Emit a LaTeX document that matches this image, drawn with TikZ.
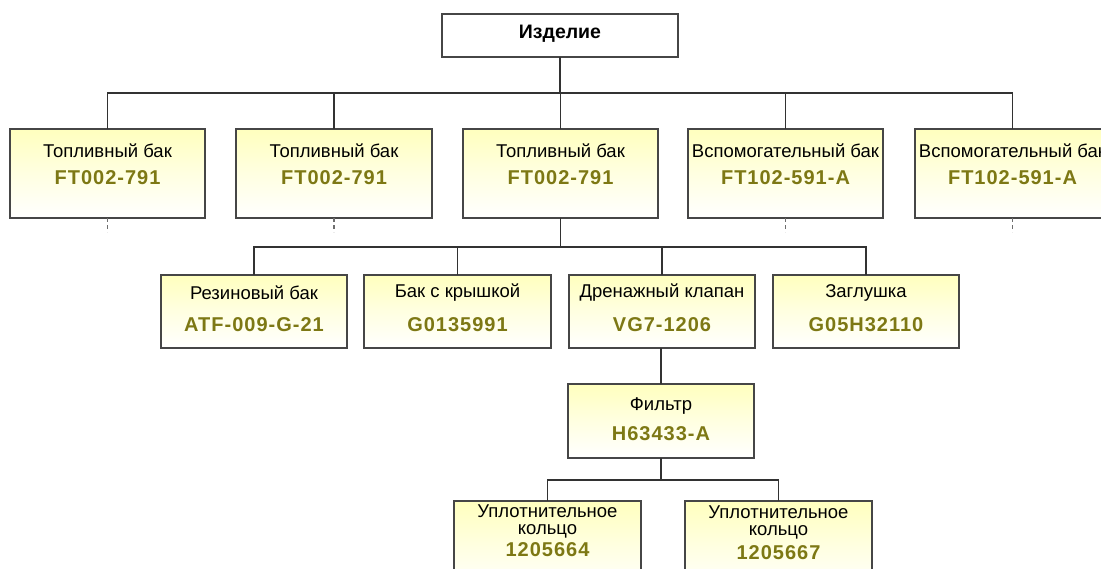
\documentclass[tikz,border=0pt]{standalone}
\usepackage{fontspec}
\setmainfont{Liberation Sans}
\newfontfamily\codefont[LetterSpace=5]{Liberation Sans}
\definecolor{linec}{RGB}{50,50,50}
\definecolor{boxc}{RGB}{70,70,70}
\definecolor{yel}{RGB}{255,255,190}
\definecolor{yelmid}{RGB}{255,255,225}
\definecolor{codec}{RGB}{125,120,20}
\definecolor{stubc}{RGB}{110,110,110}
\begin{document}
\begin{tikzpicture}[x=1pt,y=-1pt,
  box/.style={draw=boxc, line width=1.3pt, anchor=north west, inner sep=0pt, outer sep=0pt,
    top color=yel, bottom color=white, middle color=yelmid},
  rootbox/.style={draw=boxc, line width=1.3pt, anchor=north west, inner sep=0pt, outer sep=0pt, fill=white},
  nm/.style={font=\fontsize{18.5}{17}\selectfont, text=black, inner sep=0pt, align=center},
  cd/.style={font=\codefont\fontsize{20}{20}\selectfont\bfseries, text=codec, inner sep=0pt},
  rt/.style={font=\fontsize{19.5}{20}\selectfont\bfseries, text=black, inner sep=0pt},
  ln/.style={draw=linec, line width=1.4pt},
  stubline/.style={draw=stubc, line width=1.3pt, dash pattern=on 4pt off 3pt}]
\useasboundingbox (0,0) rectangle (1101,568);
\clip (0,0) rectangle (1101,568);
\fill[white] (0,0) rectangle (1101,568);

% root
\node[rootbox, minimum width=236pt, minimum height=43pt] (root) at (442,14) {};
\node[rt] (rootT) at (560,34) {Изделие};

% level 1
\node[box, minimum width=195pt, minimum height=89pt] (b1) at (10,129) {};
\node[box, minimum width=196pt, minimum height=89pt] (b2) at (236,129) {};
\node[box, minimum width=195pt, minimum height=89pt] (b3) at (463,129) {};
\node[box, minimum width=195pt, minimum height=89pt] (b4) at (688,129) {};
\node[box, minimum width=195pt, minimum height=89pt] (b5) at (915,129) {};

\node[nm] (b1n) at (107.5,151) {Топливный бак};
\node[cd] (b1c) at (107.5,178) {FT002-791};
\node[nm] (b2n) at (334,151) {Топливный бак};
\node[cd] (b2c) at (334,178) {FT002-791};
\node[nm] (b3n) at (560.5,151) {Топливный бак};
\node[cd] (b3c) at (560.5,178) {FT002-791};
\node[nm] (b4n) at (785.5,151) {Вспомогательный бак};
\node[cd] (b4c) at (785.5,178) {FT102-591-A};
\node[nm] (b5n) at (1012.5,151) {Вспомогательный бак};
\node[cd] (b5c) at (1012.5,178) {FT102-591-A};

% level 2
\node[box, minimum width=186pt, minimum height=73pt] (ca) at (161,275) {};
\node[box, minimum width=187pt, minimum height=73pt] (cb) at (364,275) {};
\node[box, minimum width=186pt, minimum height=73pt] (cc) at (569,275) {};
\node[box, minimum width=186pt, minimum height=73pt] (cdd) at (773,275) {};

\node[nm] (can) at (254,293) {Резиновый бак};
\node[cd] (cac) at (254,325) {ATF-009-G-21};
\node[nm] (cbn) at (457.5,293) {Бак с крышкой};
\node[cd] (cbc) at (457.5,325) {G0135991};
\node[nm] (ccn) at (662,293) {Дренажный клапан};
\node[cd] (ccc) at (662,325) {VG7-1206};
\node[nm] (cdn) at (866,293) {Заглушка};
\node[cd] (cdc) at (866,325) {G05H32110};

% level 3
\node[box, minimum width=186pt, minimum height=74pt] (fl) at (568,384) {};
\node[nm] (fln) at (661,406) {Фильтр};
\node[cd] (flc) at (661,434) {H63433-A};

% level 4
\node[box, minimum width=187pt, minimum height=90pt] (ea) at (454,501) {};
\node[box, minimum width=187pt, minimum height=90pt] (eb) at (685,501) {};
\node[nm] (ean) at (547.5,521) {Уплотнительное\\кольцо};
\node[cd] (eac) at (547.5,550) {1205664};
\node[nm] (ebn) at (778.5,522) {Уплотнительное\\кольцо};
\node[cd] (ebc) at (778.5,553) {1205667};

% connectors
\coordinate (j0) at (560,93);
\draw[ln] (root.south) -- (j0);
\draw[ln] (j0) -| (b1.north);
\draw[ln] (j0) -| (b2.north);
\draw[ln] (j0) -| (b3.north);
\draw[ln] (j0) -| (b4.north);
\draw[ln] (j0) -| (b5.north);

\coordinate (j1) at (560.5,247);
\draw[ln] (b3.south) -- (j1);
\draw[ln] (j1) -| (ca.north);
\draw[ln] (j1) -| (cb.north);
\draw[ln] (j1) -| (cc.north);
\draw[ln] (j1) -| (cdd.north);

\draw[ln] (fl.north) -- (fl.north |- cc.south);

\coordinate (j2) at (661,480);
\draw[ln] (fl.south) -- (j2);
\draw[ln] (j2) -| (ea.north);
\draw[ln] (j2) -| (eb.north);

% stubs
\draw[stubline] (b1.south) -- ++(0,14);
\draw[stubline] (b2.south) -- ++(0,14);
\draw[stubline] (b4.south) -- ++(0,14);
\draw[stubline] (b5.south) -- ++(0,14);
\end{tikzpicture}
\end{document}
